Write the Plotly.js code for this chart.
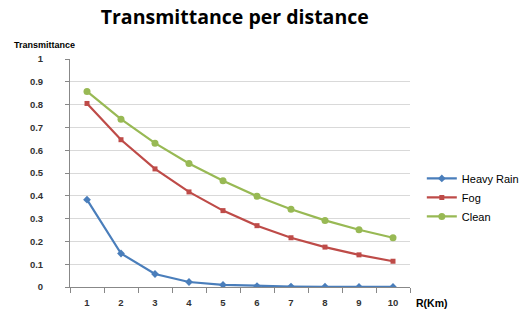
<!DOCTYPE html>
<html><head><meta charset="utf-8">
<script src="https://cdn.plot.ly/plotly-3.0.1.min.js"></script>
<style>html,body{margin:0;padding:0;background:#fff;}#chart{width:524px;height:309px;}</style>
</head><body><div id="chart"></div>
<script>
const distances = [1,2,3,4,5,6,7,8,9,10];
const heavyRain = [0.383,0.147,0.057,0.022,0.009,0.004,0.002,0.001,0.0005,0.0002];
const fog = [0.805,0.646,0.518,0.417,0.335,0.269,0.216,0.175,0.141,0.113];
const clean = [0.858,0.736,0.631,0.542,0.466,0.398,0.341,0.292,0.251,0.216];
const yTicks = [0,0.1,0.2,0.3,0.4,0.5,0.6,0.7,0.8,0.9,1];
const yTickText = ['0','0.1','0.2','0.3','0.4','0.5','0.6','0.7','0.8','0.9','1'];

const font = 'Liberation Sans, Arial, sans-serif';
function tr(name, y, color, symbol, size){
  return {x: distances, y: y, name: name, type:'scatter', mode:'lines+markers',
    line:{color:color, width:2.2}, marker:{color:color, symbol:symbol, size:size}};
}
const data = [
  tr('Heavy Rain', heavyRain, '#4A7EBB', 'diamond', 6),
  tr('Fog', fog, '#BE4B48', 'square', 5),
  tr('Clean', clean, '#98B954', 'circle', 7)
];
const tickFont = {family:font, size:9.5, color:'#333', weight:'bold'};
const layout = {
  width:524, height:309,
  margin:{l:70, r:114, t:59, b:22, autoexpand:false},
  paper_bgcolor:'#fff', plot_bgcolor:'#fff',
  title:{text:'<b>Transmittance per distance</b>', x:0.448, xanchor:'center', y:0.945, yanchor:'middle',
    font:{family:'Open Sans, sans-serif', size:19.5, color:'#000'}},
  xaxis:{range:[0.5,10.5], tickvals:distances, ticktext:distances.map(String), ticks:'', showgrid:false,
    showline:true, linecolor:'#888', linewidth:1, zeroline:false, ticklabelstandoff:7, automargin:false,
    tickfont:tickFont,
    minor:{tick0:0.5, dtick:1, ticks:'outside', ticklen:5, tickcolor:'#888', showgrid:false}},
  yaxis:{range:[0,1], tickvals:yTicks, ticktext:yTickText, ticks:'outside', ticklen:4, tickcolor:'#888',
    showgrid:true, gridcolor:'#d9d9d9', gridwidth:1, showline:true, linecolor:'#888', linewidth:1, zeroline:false,
    ticklabelstandoff:20, automargin:false, tickfont:tickFont},
  legend:{xref:'container', x:0.805, y:0.393, yref:'paper', xanchor:'left', yanchor:'middle', font:{family:font, size:11, color:'#000'},
    tracegroupgap:0, itemwidth:30, bgcolor:'rgba(0,0,0,0)'},
  showlegend:true,
  annotations:[
    {text:'<b>Transmittance</b>', xref:'paper', yref:'paper', x:-0.17, y:1.061, xanchor:'left', yanchor:'middle',
      showarrow:false, font:{family:font, size:9, color:'#000'}},
    {text:'<b>R(Km)</b>', xref:'paper', yref:'paper', x:1.012, y:-0.072, xanchor:'left', yanchor:'middle',
      showarrow:false, font:{family:font, size:10.5, color:'#000'}}
  ]
};
Plotly.newPlot('chart', data, layout, {displayModeBar:false, staticPlot:true});
</script></body></html>
